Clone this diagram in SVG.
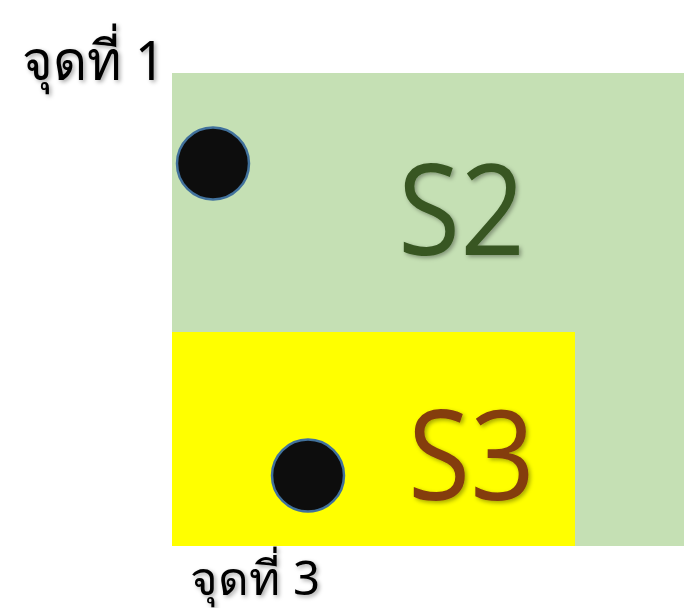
<svg xmlns="http://www.w3.org/2000/svg" width="684" height="608" viewBox="0 0 684 608">
<defs>
<filter id="sh" x="-10%" y="-10%" width="130%" height="130%">
<feDropShadow dx="2" dy="2" stdDeviation="2" flood-color="#000" flood-opacity="0.35"/>
</filter>
</defs>
<style>
.lbl{font-family:"Noto Sans","Liberation Sans",sans-serif;fill:#000;filter:url(#sh)}
.big{font-family:"Open Sans","Noto Sans","Liberation Sans",sans-serif;font-weight:500;filter:url(#sh)}
.pt{fill:#0d0d0d;stroke:#41719c;stroke-width:2.5}
</style>
<g id="S2">
<rect x="172" y="73" width="512" height="473" fill="#c5e0b4"/>
<text class="big" x="398" y="255" font-size="126" fill="#385723" textLength="127" lengthAdjust="spacingAndGlyphs">S2</text>
</g>
<g id="S3">
<rect x="172" y="332" width="403" height="214" fill="#ffff00"/>
<text class="big" x="408" y="500" font-size="124" fill="#843c0c" textLength="127" lengthAdjust="spacingAndGlyphs">S3</text>
</g>
<g id="p1">
<circle class="pt" cx="213" cy="163.5" r="36"/>
<text class="lbl" x="22" y="80" font-size="55" textLength="143" lengthAdjust="spacingAndGlyphs">จุดที่ 1</text>
</g>
<g id="p3">
<circle class="pt" cx="308" cy="475.5" r="36"/>
<text class="lbl" x="190" y="595" font-size="47" textLength="130" lengthAdjust="spacingAndGlyphs">จุดที่ 3</text>
</g>
<g id="connectors"/>
</svg>
